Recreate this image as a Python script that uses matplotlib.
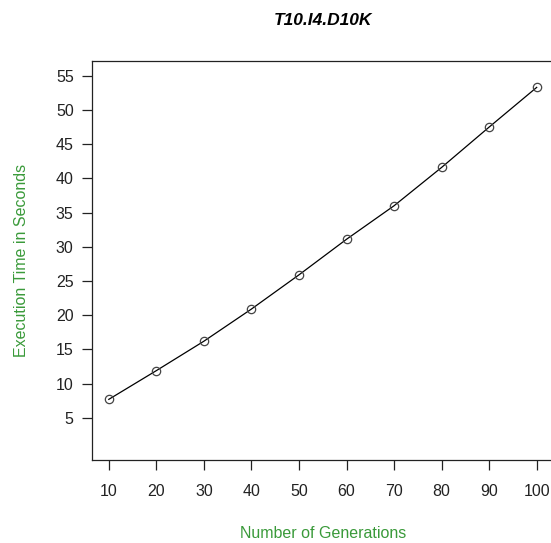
import matplotlib
matplotlib.use("Agg")
import matplotlib.pyplot as plt

# Данные
generations = [10, 20, 30, 40, 50, 60, 70, 80, 90, 100]
exec_times = [7.7, 11.9, 16.2, 20.9, 25.9, 31.1, 36.0, 41.6, 47.5, 53.3]
y_ticks = [5, 10, 15, 20, 25, 30, 35, 40, 45, 50, 55]

plt.rcParams['font.family'] = ['Liberation Sans', 'DejaVu Sans']

fig = plt.figure(figsize=(5.51, 5.43), dpi=100)
ax = fig.add_axes([0.1664, 0.1529, 0.8387, 0.7348])

ax.plot(generations, exec_times, color='black', linewidth=0.9,
        marker='o', markersize=6, markerfacecolor='none',
        markeredgecolor='#444444', markeredgewidth=0.9)

# Пределы как в R (расширение на 4%)
ax.set_xlim(6.4, 103.6)
ax.set_ylim(-1.16, 57.16)
ax.set_xticks(generations)
ax.set_yticks(y_ticks)

ax.tick_params(axis='both', direction='out', length=7, width=0.9,
               labelsize=11.5, labelcolor='#222222', color='#222222')
ax.tick_params(axis='y', pad=6)
ax.tick_params(axis='x', pad=10)

for side in ['left', 'bottom', 'top']:
    ax.spines[side].set_linewidth(0.9)
    ax.spines[side].set_color('#222222')
ax.spines['right'].set_visible(False)

ax.set_title('T10.I4.D10K', fontsize=12.5, fontweight='bold', fontstyle='italic',
             pad=26, x=0.5)
ax.set_xlabel('Number of Generations', color='#3a9a3a', fontsize=11.5, labelpad=20)
ax.set_ylabel('Execution Time in Seconds', color='#3a9a3a', fontsize=11.5, labelpad=19)

fig.savefig('out.png', dpi=100)
